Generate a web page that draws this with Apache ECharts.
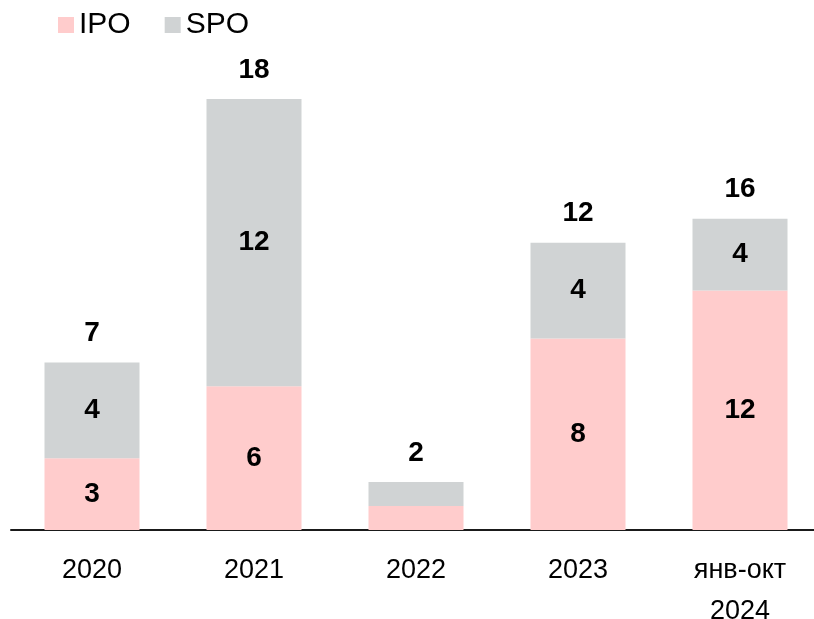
<!DOCTYPE html>
<html>
<head>
<meta charset="utf-8">
<script src="https://cdn.jsdelivr.net/npm/echarts@6/dist/echarts.min.js"></script>
<style>
html,body{margin:0;padding:0;background:#fff;}
#chart{width:814px;height:619px;}
</style>
</head>
<body>
<div id="chart"></div>
<script>
// Categories
const categories = ['2020', '2021', '2022', '2023', 'янв-окт\n2024'];
// Bar heights as drawn in the picture
const ipoValues = [3, 6, 1, 8, 10];
const spoValues = [4, 12, 1, 4, 3];
// Labels printed on the bars
const ipoLabels = ['3', '6', '', '8', '12'];
const spoLabels = ['4', '12', '', '4', '4'];
const totalLabels = ['7', '18', '2', '12', '16'];

const labelFont = {
  fontFamily: 'Liberation Sans, Arial, sans-serif',
  fontWeight: 'bold',
  fontSize: 28,
  color: '#000'
};

const chart = echarts.init(document.getElementById('chart'), null, {renderer: 'canvas'});
chart.setOption({
  animation: false,
  backgroundColor: '#fff',
  legend: {
    data: ['IPO', 'SPO'],
    left: 53,
    top: 5,
    icon: 'rect',
    itemWidth: 16,
    itemHeight: 16,
    itemGap: 34,
    textStyle: {
      fontFamily: 'Liberation Sans, Arial, sans-serif',
      fontSize: 30,
      color: '#000'
    }
  },
  grid: {left: 11, top: 99, width: 810, bottom: 89, containLabel: false, outerBoundsMode: 'none'},
  xAxis: {
    type: 'category',
    data: categories,
    axisTick: {show: false},
    axisLine: {lineStyle: {color: '#1a1a1a', width: 2}},
    axisLabel: {
      color: '#000',
      fontFamily: 'Liberation Sans Narrow, Arial Narrow, Liberation Sans, sans-serif',
      fontSize: 27,
      lineHeight: 41,
      margin: 20,
      interval: 0
    }
  },
  yAxis: {
    type: 'value',
    min: 0,
    max: 18,
    show: false,
    splitLine: {show: false}
  },
  series: [
    {
      name: 'IPO',
      type: 'bar',
      stack: 'total',
      barWidth: 95,
      itemStyle: {color: '#FFCCCC'},
      data: ipoValues,
      label: Object.assign({
        show: true,
        position: 'inside',
        formatter: p => ipoLabels[p.dataIndex]
      }, labelFont)
    },
    {
      name: 'SPO',
      type: 'bar',
      stack: 'total',
      barWidth: 95,
      itemStyle: {color: '#D0D3D4'},
      data: spoValues,
      label: Object.assign({
        show: true,
        position: 'inside',
        formatter: p => spoLabels[p.dataIndex]
      }, labelFont)
    },
    {
      name: 'total',
      type: 'bar',
      stack: 'total',
      barWidth: 95,
      itemStyle: {color: 'rgba(0,0,0,0)'},
      data: categories.map(() => 0),
      label: Object.assign({
        show: true,
        position: 'top',
        distance: 15,
        formatter: p => totalLabels[p.dataIndex]
      }, labelFont)
    }
  ]
});
</script>
</body>
</html>
